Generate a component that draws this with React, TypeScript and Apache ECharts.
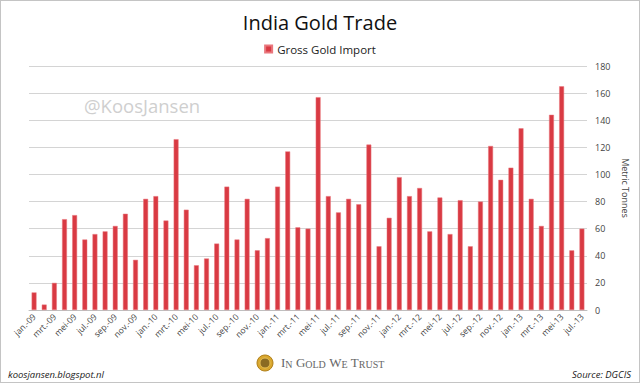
import React, { useEffect, useRef } from "react";
import * as echarts from "echarts";

const months = ["jan.", "feb.", "mrt.", "apr.", "mei", "jun.", "jul.", "aug.", "sep.", "okt.", "nov.", "dec."];
const years = ["09", "10", "11", "12", "13"];
const categories: string[] = [];
years.forEach((y) => {
  months.forEach((m, i) => {
    if (y === "13" && i > 6) return;
    categories.push(`${m}-${y}`);
  });
});

const grossGoldImport = [
  13, 4, 20, 67, 70, 52, 56, 58, 62, 71, 37, 82,
  84, 66, 126, 74, 33, 38, 49, 91, 52, 82, 44, 53,
  91, 117, 61, 60, 157, 84, 72, 82, 78, 122, 47, 68,
  98, 84, 90, 58, 83, 56, 81, 47, 80, 121, 96, 105,
  134, 82, 62, 144, 165, 44, 60,
];

const title = "India Gold Trade";
const seriesName = "Gross Gold Import";
const yAxisName = "Metric Tonnes";

export default function App() {
  const ref = useRef<HTMLDivElement>(null);
  useEffect(() => {
    if (!ref.current) return;
    const chart = echarts.init(ref.current, undefined, { renderer: "svg" });
    const font = "Open Sans";
    chart.setOption({
      animation: false,
      backgroundColor: "#ffffff",
      title: {
        text: title,
        left: "center",
        top: 6,
        textStyle: { fontFamily: font, fontSize: 20, fontWeight: "normal", color: "#111" },
      },
      legend: {
        top: 37,
        left: "center",
        itemWidth: 7,
        itemHeight: 7,
        icon: "rect",
        itemGap: 6,
        textStyle: { fontFamily: font, fontSize: 11.5, color: "#222" },
        data: [seriesName],
      },
      grid: { left: 28, right: 52, top: 65, bottom: 72 },
      xAxis: {
        type: "category",
        data: categories,
        boundaryGap: true,
        axisLine: { lineStyle: { color: "#bfbfbf" } },
        axisTick: { interval: 1, length: 4, lineStyle: { color: "#bfbfbf" } },
        axisLabel: {
          interval: 1,
          rotate: 45,
          fontFamily: font,
          fontSize: 8.5,
          color: "#444",
          margin: 5,
        },
      },
      yAxis: {
        type: "value",
        position: "right",
        min: 0,
        max: 180,
        interval: 20,
        name: yAxisName,
        nameLocation: "middle",
        nameRotate: -90,
        nameGap: 34,
        nameTextStyle: { fontFamily: font, fontSize: 9, color: "#444" },
        axisLine: { show: false },
        axisTick: { show: false },
        axisLabel: { fontFamily: font, fontSize: 9, color: "#444", margin: 8 },
        splitLine: { lineStyle: { color: "#d4d4d4" } },
      },
      series: [
        {
          name: seriesName,
          type: "bar",
          data: grossGoldImport,
          barWidth: "48%",
          itemStyle: { color: "#d93a43", borderColor: "#e9777d", borderWidth: 0.5 },
        },
      ],
      graphic: [
        {
          type: "text",
          left: 83,
          top: 95,
          style: { text: "@KoosJansen", fontFamily: font, fontSize: 18.5, fill: "#cfcfcf" },
          silent: true,
        },
        {
          type: "text",
          left: 7,
          top: 368,
          style: { text: "koosjansen.blogspot.nl", fontFamily: font, fontSize: 9.5, fontStyle: "italic", fill: "#222" },
        },
        {
          type: "text",
          right: 8,
          top: 368,
          style: { text: "Source: DGCIS", fontFamily: font, fontSize: 9.5, fontStyle: "italic", fill: "#222" },
        },
        {
          type: "circle",
          shape: { cx: 264, cy: 362, r: 8 },
          style: { fill: "#d9a72e", stroke: "#b07f18", lineWidth: 1 },
        },
        {
          type: "circle",
          shape: { cx: 264, cy: 362, r: 5 },
          style: { fill: "#8a6a22", stroke: "#e8c25a", lineWidth: 1 },
        },
        {
          type: "text",
          left: 280,
          top: 355,
          style: {
            text: "{b|I}{s|N} {b|G}{s|OLD} {b|W}{s|E} {b|T}{s|RUST}",
            rich: {
              b: { fontFamily: "Liberation Serif", fontSize: 13, fill: "#666", verticalAlign: "bottom" },
              s: { fontFamily: "Liberation Serif", fontSize: 10, fill: "#666", verticalAlign: "bottom" },
            },
          },
        },
      ],
    });
    return () => chart.dispose();
  }, []);
  return (
    <div
      ref={ref}
      style={{
        position: "fixed",
        left: 0,
        top: 0,
        width: 640,
        height: 383,
        boxSizing: "border-box",
        border: "1px solid #c4c4c4",
      }}
    />
  );
}
